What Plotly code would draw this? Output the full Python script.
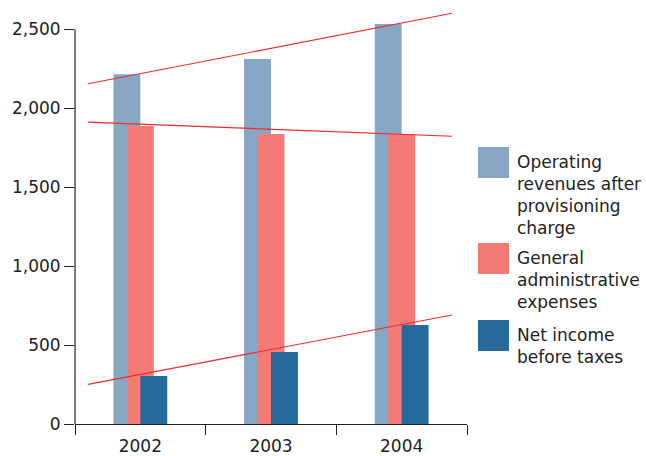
import plotly.graph_objects as go

years = ["2002", "2003", "2004"]
x_pos = [0, 1, 2]
series_names = [
    "Operating<br>revenues after<br>provisioning<br>charge",
    "General<br>administrative<br>expenses",
    "Net income<br>before taxes",
]
operating = [2215, 2312, 2533]
general_admin = [1887, 1837, 1835]
net_income = [304, 456, 627]

trend_x = [-0.40, 2.385]
trend_operating = [2155, 2601]
trend_admin = [1912, 1822]
trend_net = [251, 690]

y_ticks = [0, 500, 1000, 1500, 2000, 2500]
y_ticktext = ["0", "500", "1,000", "1,500", "2,000", "2,500"]

colors = ["#86A8C5", "#F37A75", "#266A9B"]
red = "#EE2A2E"
FONT = "DejaVu Sans"

fig = go.Figure()
bar_w = 0.206
offsets = [-0.206, -0.103, 0.0]
for vals, col, off in zip([operating, general_admin, net_income], colors, offsets):
    fig.add_trace(go.Bar(x=x_pos, y=vals, width=bar_w, offset=off,
                         marker=dict(color=col, line=dict(width=0)),
                         showlegend=False, hoverinfo="skip"))

for tv in [trend_operating, trend_admin, trend_net]:
    fig.add_trace(go.Scatter(x=trend_x, y=tv, mode="lines",
                             line=dict(color=red, width=1.1),
                             showlegend=False, hoverinfo="skip"))

fig.update_layout(
    width=646, height=456,
    margin=dict(l=75, r=179, t=4, b=32),
    barmode="overlay",
    plot_bgcolor="white", paper_bgcolor="white",
    font=dict(family=FONT, size=17, color="#222222"),
    xaxis=dict(range=[-0.5, 2.5], tickvals=x_pos, ticktext=years,
               automargin=False,
               ticks="outside", ticklen=6, tickcolor="rgba(0,0,0,0)",
               showline=True, linecolor="#222222", linewidth=1.2,
               showgrid=False, zeroline=False,
               minor=dict(tickvals=[-0.5, 0.5, 1.5, 2.5], ticks="outside",
                          ticklen=10, tickcolor="#222222", tickwidth=1.2,
                          showgrid=False),
               tickfont=dict(family=FONT, size=17, color="#222222")),
    yaxis=dict(range=[0, 2660], tickvals=y_ticks, ticktext=y_ticktext,
               automargin=False,
               ticks="outside", ticklen=10, tickcolor="#222222", tickwidth=1.2,
               showline=False, showgrid=False, zeroline=False,
               tickfont=dict(family=FONT, size=17, color="#222222")),
)

# y axis line only up to 2500
fig.add_shape(type="line", xref="paper", yref="y", x0=0, x1=0, y0=0, y1=2500,
              line=dict(color="#222222", width=1.2))

# manual legend
sq_tops = [147, 243, 320]
txt_tops = [150, 246, 323]
for col, top, ttop, name in zip(colors, sq_tops, txt_tops, series_names):
    fig.add_shape(type="rect", xref="paper", yref="paper",
                  x0=(478 - 75) / 392, x1=(509 - 75) / 392,
                  y0=1 - (top + 31 - 4) / 420, y1=1 - (top - 4) / 420,
                  fillcolor=col, line=dict(width=0))
    fig.add_annotation(xref="paper", yref="paper",
                       x=(515 - 75) / 392, y=1 - (ttop - 4) / 420,
                       xanchor="left", yanchor="top", align="left",
                       text=name, showarrow=False,
                       font=dict(family=FONT, size=17, color="#222222"))

fig.write_html("out.html", config={"displayModeBar": False},
               post_script="document.body.style.margin='0px';document.body.style.overflow='hidden';")
